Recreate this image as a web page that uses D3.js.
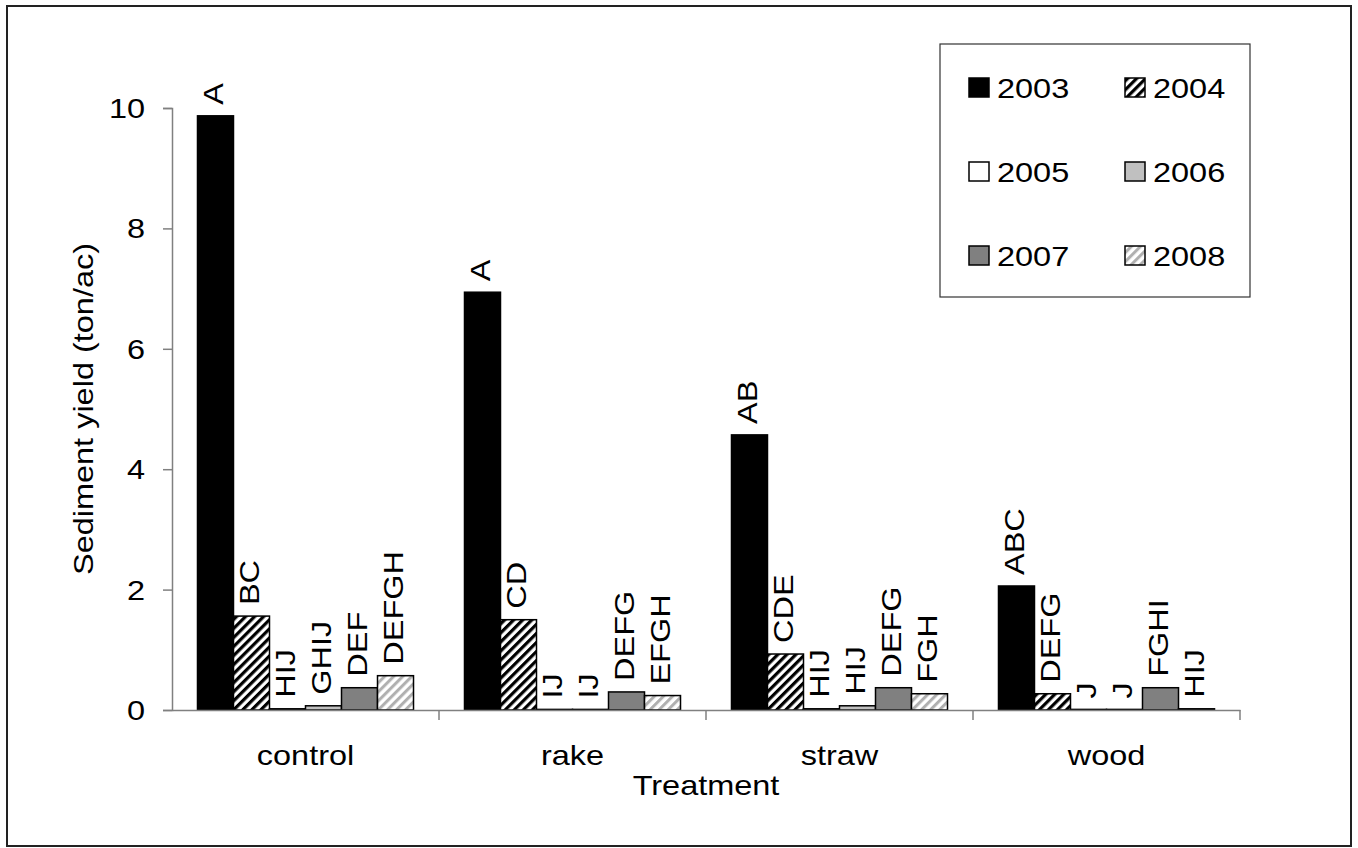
<!DOCTYPE html>
<html><head><meta charset="utf-8">
<script src="https://cdn.jsdelivr.net/npm/d3@7"></script>
<style>body{margin:0;background:#fff}svg{display:block}text{font-family:"Liberation Sans",Arial,sans-serif;fill:#000}</style>
</head><body><svg id="c" width="1358" height="848"></svg>
<script>
const categories = ["control","rake","straw","wood"];
const years = ["2003","2004","2005","2006","2007","2008"];
const y2003 = [9.87, 6.94, 4.57, 2.06];
const y2004 = [1.56, 1.50, 0.93, 0.27];
const y2005 = [0.02, 0.01, 0.02, 0.01];
const y2006 = [0.07, 0.01, 0.07, 0.01];
const y2007 = [0.37, 0.30, 0.37, 0.37];
const y2008 = [0.57, 0.24, 0.27, 0.02];
const l2003 = ["A","A","AB","ABC"];
const l2004 = ["BC","CD","CDE","DEFG"];
const l2005 = ["HIJ","IJ","HIJ","J"];
const l2006 = ["GHIJ","IJ","HIJ","J"];
const l2007 = ["DEF","DEFG","DEFG","FGHI"];
const l2008 = ["DEFGH","EFGH","FGH","HIJ"];
const yTicks = [0,2,4,6,8,10];

const values = [y2003,y2004,y2005,y2006,y2007,y2008];
const letters = [l2003,l2004,l2005,l2006,l2007,l2008];
const fills = ["#000","url(#p2004)","#fff","#c0c0c0","#808080","url(#p2008)"];

const svg = d3.select("#c");
const FS = 28, SX = 1.16;
function txt(g, x, y, rot, anchor, s){
  return g.append("text")
    .attr("transform",`translate(${x},${y}) rotate(${rot}) scale(${SX},1)`)
    .attr("text-anchor",anchor).attr("font-size",FS).text(s);
}
const defs = svg.append("defs");
function stripes(id, color, w){
  const p = defs.append("pattern").attr("id",id).attr("patternUnits","userSpaceOnUse")
    .attr("width",6.4).attr("height",6.4).attr("patternTransform","rotate(45)");
  p.append("rect").attr("width",6.4).attr("height",6.4).attr("fill","#fff");
  p.append("rect").attr("width",w).attr("height",6.4).attr("fill",color);
}
stripes("p2004","#000",3.2);
stripes("p2008","#b0b0b0",3.0);

svg.append("rect").attr("x",7).attr("y",6).attr("width",1344).attr("height",840)
  .attr("fill","none").attr("stroke","#222").attr("stroke-width",2);

const y = d3.scaleLinear().domain([0,10]).range([710,108]);
const x0 = d3.scaleBand().domain(categories).range([172,1240]).padding(0);
const x1 = d3.scaleBand().domain(years).range([0,x0.bandwidth()]).paddingInner(0).paddingOuter(0.708);

// bars
years.forEach((yr,i)=>{
  const g = svg.append("g");
  g.selectAll("rect").data(categories).join("rect")
    .attr("x",c=>x0(c)+x1(yr))
    .attr("y",(c,j)=>y(values[i][j]))
    .attr("width",x1.bandwidth())
    .attr("height",(c,j)=>y(0)-y(values[i][j]))
    .attr("fill",fills[i]).attr("stroke","#000").attr("stroke-width",1.5);
  categories.forEach((c,j)=>{
    txt(g, x0(c)+x1(yr)+x1.bandwidth()/2+7.5, y(values[i][j])-11, -90, "start", letters[i][j]);
  });
});

// y axis
const ya = svg.append("g").attr("transform","translate(172,0)")
  .call(d3.axisLeft(y).tickValues(yTicks).tickSize(9).tickFormat(""));
ya.select(".domain").attr("stroke","#808080").attr("stroke-width",1.5);
ya.selectAll(".tick line").attr("stroke","#808080").attr("stroke-width",1.5);
ya.selectAll(".tick text").remove();
const yl = svg.append("g");
yTicks.forEach(t=>txt(yl, 145, y(t)+10, 0, "end", d3.format("d")(t)));

// x axis
const xa = svg.append("g").attr("transform","translate(0,710)")
  .call(d3.axisBottom(x0).tickSize(0).tickFormat(""));
xa.select(".domain").attr("stroke","#808080").attr("stroke-width",1.5);
xa.selectAll(".tick line").remove();
xa.selectAll(".tick text").remove();
const xl = svg.append("g");
categories.forEach(c=>txt(xl, x0(c)+x0.bandwidth()/2, 765, 0, "middle", c));
svg.append("g").selectAll("line").data(categories).join("line")
  .attr("x1",c=>x0(c)+x0.bandwidth()).attr("x2",c=>x0(c)+x0.bandwidth())
  .attr("y1",710).attr("y2",720).attr("stroke","#808080").attr("stroke-width",1.5);

// titles
txt(svg, 93, 409, -90, "middle", "Sediment yield (ton/ac)");
txt(svg, 706, 795, 0, "middle", "Treatment");

// legend
const lg = svg.append("g");
lg.append("rect").attr("x",940).attr("y",44).attr("width",310).attr("height",253)
  .attr("fill","#fff").attr("stroke","#333").attr("stroke-width",1.2);
years.forEach((yr,i)=>{
  const col = i%2, row = Math.floor(i/2);
  const sx = 969 + col*156, sy = 78 + row*84;
  lg.append("rect").attr("x",sx).attr("y",sy).attr("width",20).attr("height",19)
    .attr("fill",fills[i]).attr("stroke","#000").attr("stroke-width",1.5);
  txt(lg, sx+28, sy+19.5, 0, "start", yr);
});
</script></body></html>
